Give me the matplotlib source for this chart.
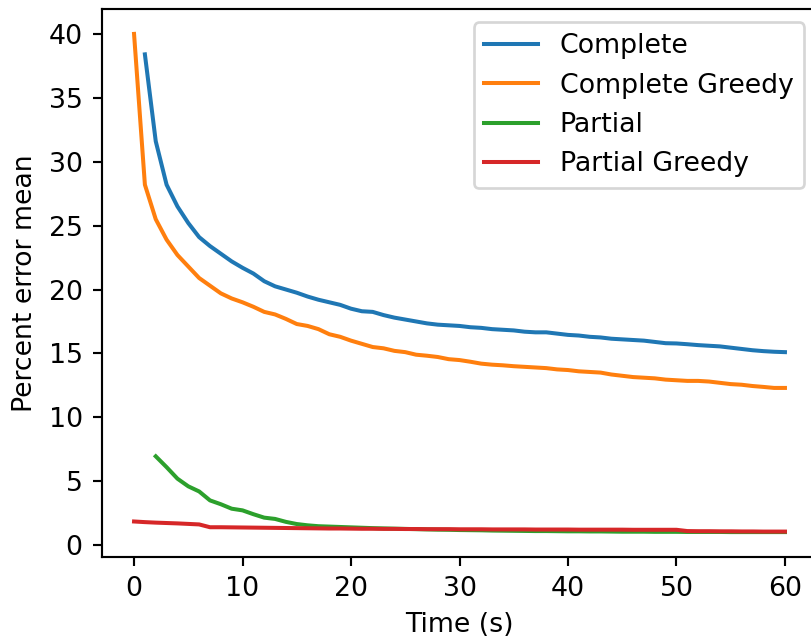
import matplotlib
matplotlib.use("Agg")
import matplotlib.pyplot as plt

# mean percent error over time
t_complete = list(range(1, 61))
complete = [38.4, 31.6, 28.2, 26.5, 25.2, 24.1, 23.4, 22.8, 22.2, 21.7,
            21.25, 20.65, 20.25, 20.0, 19.75, 19.45, 19.2, 19.0, 18.8, 18.5,
            18.3, 18.25, 18.0, 17.8, 17.65, 17.5, 17.35, 17.25, 17.2, 17.15,
            17.05, 17.0, 16.9, 16.85, 16.8, 16.7, 16.65, 16.65, 16.55, 16.45,
            16.4, 16.3, 16.25, 16.15, 16.1, 16.05, 16.0, 15.9, 15.8, 15.78,
            15.72, 15.65, 15.6, 15.55, 15.45, 15.35, 15.25, 15.18, 15.13, 15.1]

t_complete_greedy = list(range(0, 61))
complete_greedy = [40.0, 28.2, 25.5, 23.9, 22.7, 21.8, 20.9, 20.3, 19.7, 19.3,
                   19.0, 18.65, 18.25, 18.05, 17.7, 17.3, 17.15, 16.9, 16.5, 16.3,
                   16.0, 15.75, 15.5, 15.4, 15.2, 15.1, 14.9, 14.82, 14.72, 14.55,
                   14.48, 14.35, 14.2, 14.12, 14.07, 14.0, 13.95, 13.9, 13.85, 13.75,
                   13.7, 13.6, 13.55, 13.5, 13.35, 13.25, 13.15, 13.1, 13.05, 12.95,
                   12.9, 12.85, 12.85, 12.8, 12.7, 12.6, 12.55, 12.45, 12.38, 12.3,
                   12.3]

t_partial = list(range(2, 61))
partial = [6.95, 6.1, 5.2, 4.6, 4.2, 3.5, 3.2, 2.85, 2.72, 2.42,
           2.15, 2.05, 1.82, 1.65, 1.55, 1.48, 1.45, 1.42, 1.39, 1.36,
           1.33, 1.31, 1.29, 1.27, 1.25, 1.23, 1.21, 1.2, 1.18, 1.17,
           1.16, 1.14, 1.13, 1.12, 1.11, 1.1, 1.1, 1.09, 1.08, 1.08,
           1.07, 1.07, 1.06, 1.05, 1.05, 1.05, 1.04, 1.04, 1.04, 1.03,
           1.03, 1.03, 1.03, 1.02, 1.02, 1.02, 1.02, 1.02, 1.02]

t_partial_greedy = list(range(0, 61))
partial_greedy = [1.85, 1.8, 1.76, 1.73, 1.7, 1.66, 1.62, 1.4, 1.4, 1.39,
                  1.38, 1.37, 1.36, 1.35, 1.34, 1.33, 1.32, 1.31, 1.3, 1.3,
                  1.29, 1.28, 1.28, 1.27, 1.27, 1.26, 1.26, 1.25, 1.25, 1.25,
                  1.24, 1.24, 1.24, 1.23, 1.23, 1.23, 1.23, 1.22, 1.22, 1.22,
                  1.22, 1.21, 1.21, 1.21, 1.21, 1.21, 1.2, 1.2, 1.2, 1.2,
                  1.2, 1.1, 1.09, 1.09, 1.08, 1.08, 1.07, 1.07, 1.06, 1.06,
                  1.06]

DPI = 193
fig = plt.figure(figsize=(811 / DPI, 639 / DPI), dpi=DPI)
ax = fig.add_axes([101.5 / 811, 82 / 639, 716 / 811, 548 / 639])

ax.plot(t_complete, complete, label="Complete")
ax.plot(t_complete_greedy, complete_greedy, label="Complete Greedy")
ax.plot(t_partial, partial, label="Partial")
ax.plot(t_partial_greedy, partial_greedy, label="Partial Greedy")

ax.set_xlabel("Time (s)")
ax.set_ylabel("Percent error mean")
ax.legend(loc="upper right")

fig.savefig("out.png", dpi=DPI)
